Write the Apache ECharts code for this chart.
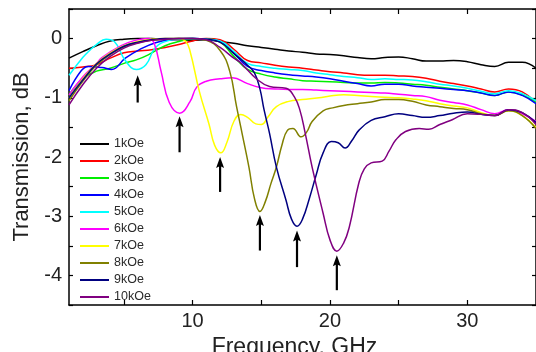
<!DOCTYPE html>
<html>
<head>
<meta charset="utf-8">
<script src="https://cdn.jsdelivr.net/npm/echarts@6/dist/echarts.min.js"></script>
<style>
  html, body { margin: 0; padding: 0; background: #fff; }
  #chart { width: 536px; height: 352px; }
</style>
</head>
<body>
<div id="chart"></div>
<script>
// transmission curves, [frequency GHz, dB]
var NAMES = ['1kOe', '2kOe', '3kOe', '4kOe', '5kOe', '6kOe', '7kOe', '8kOe', '9kOe', '10kOe'];
var COLORS = ['#000000', '#ff0000', '#00ee00', '#0000ff', '#00ffff', '#ff00ff', '#ffff00', '#808000', '#000080', '#800080'];

var k1 = [[1,-0.33],[2,-0.22],[3,-0.12],[4,-0.04],[5,-0.01],[6,0],[7,0],[8,-0.01],[9,-0.02],[10,-0.03],[11,-0.02],[12,-0.05],[13,-0.08],[14,-0.12],[15,-0.15],[16,-0.18],[17,-0.21],[18,-0.23],[19,-0.26],[20,-0.27],[21,-0.29],[22,-0.32],[23,-0.34],[24,-0.32],[25,-0.31],[26,-0.34],[27,-0.38],[28,-0.38],[29,-0.37],[30,-0.39],[31,-0.44],[32,-0.47],[33,-0.4],[34,-0.4],[35,-0.5]];
var k2 = [[1,-0.5],[2,-0.48],[3,-0.44],[4,-0.33],[5,-0.24],[6,-0.21],[7,-0.19],[8,-0.15],[9,-0.1],[10,-0.04],[11,0],[12,-0.02],[13,-0.18],[14,-0.37],[15,-0.41],[16,-0.45],[17,-0.48],[18,-0.5],[19,-0.53],[20,-0.56],[21,-0.58],[22,-0.61],[23,-0.62],[24,-0.62],[25,-0.63],[26,-0.64],[27,-0.67],[28,-0.72],[29,-0.76],[30,-0.8],[31,-0.85],[32,-0.9],[33,-0.85],[34,-0.9],[35,-1.08]];
var k3 = [[1,-0.95],[2,-0.68],[3,-0.55],[4,-0.5],[5.1,-0.41],[5.9,-0.36],[6.8,-0.27],[8,-0.12],[9,-0.05],[10,-0.01],[11,-0.01],[12,-0.06],[13,-0.3],[14,-0.52],[15,-0.6],[16,-0.65],[17,-0.68],[18,-0.71],[19,-0.72],[20,-0.73],[21,-0.74],[22,-0.75],[23,-0.75],[24,-0.74],[25,-0.75],[26,-0.77],[27,-0.79],[28,-0.82],[29,-0.85],[30,-0.88],[31,-0.92],[32,-0.96],[33,-0.9],[34,-0.95],[35,-1.08]];
var k4 = [[1,-0.88],[1.9,-0.54],[2.4,-0.47],[3.4,-0.49],[4.1,-0.52],[5.1,-0.33],[6.1,-0.19],[7.3,-0.07],[8.5,-0.02],[10,0],[11,-0.01],[12,-0.05],[13,-0.25],[14,-0.47],[15,-0.54],[16,-0.58],[17,-0.61],[18,-0.63],[19,-0.65],[20,-0.68],[21,-0.72],[22,-0.76],[23,-0.8],[24,-0.77],[25,-0.77],[26,-0.8],[27,-0.82],[28,-0.84],[29,-0.86],[30,-0.88],[31,-0.92],[32,-0.96],[33,-0.9],[34,-0.96],[35,-1.1]];
var k5 = [[1,-0.62],[2,-0.32],[2.5,-0.2],[3,-0.1],[3.7,-0.01],[4.3,-0.05],[5.1,-0.37],[5.9,-0.52],[6.6,-0.44],[7.3,-0.15],[8.3,-0.03],[9,-0.01],[10,0],[11,-0.01],[12,-0.04],[13,-0.22],[14,-0.42],[15,-0.47],[16,-0.5],[17,-0.52],[18,-0.54],[19,-0.58],[20,-0.61],[21,-0.64],[22,-0.66],[23,-0.69],[24,-0.68],[25,-0.69],[26,-0.7],[27,-0.73],[28,-0.77],[29,-0.8],[30,-0.84],[31,-0.89],[32,-0.93],[33,-0.88],[34,-0.93],[35,-1.05]];
var k6 = [[1,-0.95],[2,-0.65],[3,-0.42],[3.4,-0.32],[4.8,-0.12],[5.8,-0.03],[6.8,0],[7.2,-0.08],[7.7,-0.55],[8.3,-1.08],[9.05,-1.26],[9.8,-1.07],[10.3,-0.82],[11,-0.72],[12,-0.68],[12.9,-0.66],[14,-0.76],[15,-0.83],[16,-0.85],[17,-0.86],[18,-0.86],[19,-0.87],[20,-0.88],[21,-0.89],[22,-0.9],[23,-0.91],[24,-0.92],[25,-0.94],[26,-0.96],[27,-0.98],[28,-1.04],[29,-1.08],[30,-1.12],[31,-1.2],[32,-1.27],[33,-1.2],[34,-1.27],[35,-1.4]];
var k7 = [[1,-1.0],[2,-0.68],[3,-0.42],[4,-0.24],[5,-0.12],[6,-0.05],[7,-0.01],[8,0],[9,0],[9.5,-0.05],[9.8,-0.2],[10.5,-0.9],[11.2,-1.45],[11.6,-1.8],[12.05,-1.93],[12.5,-1.75],[13,-1.4],[13.5,-1.28],[14,-1.33],[14.6,-1.44],[15,-1.45],[15.5,-1.32],[16.1,-1.15],[17,-1.06],[18,-1.03],[19.2,-1.0],[20,-0.97],[21,-0.95],[22,-0.96],[23,-0.98],[24,-0.99],[25,-1.0],[26,-1.02],[27,-1.05],[28,-1.1],[29,-1.14],[30,-1.17],[31,-1.25],[32,-1.3],[33,-1.22],[34,-1.3],[35,-1.5]];
var k8 = [[1,-1.05],[2,-0.72],[3,-0.45],[4,-0.27],[5,-0.14],[6,-0.07],[7,-0.03],[8,-0.01],[9,0],[10,0],[11,-0.03],[12,-0.2],[12.7,-0.55],[13.2,-1.15],[13.6,-1.6],[14.1,-2.17],[14.5,-2.7],[14.9,-2.92],[15.3,-2.75],[15.7,-2.45],[16.1,-2.17],[16.5,-1.8],[16.9,-1.55],[17.3,-1.52],[17.9,-1.66],[18.3,-1.58],[18.7,-1.4],[19.5,-1.22],[20.2,-1.17],[21,-1.13],[22,-1.1],[23,-1.07],[24,-1.03],[25,-1.03],[26,-1.06],[27,-1.12],[28,-1.15],[29,-1.18],[30,-1.2],[31,-1.27],[32,-1.3],[33,-1.22],[34,-1.3],[35,-1.52]];
var k9 = [[1,-1.0],[2,-0.7],[3,-0.43],[4,-0.26],[5,-0.13],[6,-0.06],[7,-0.02],[8,0],[9,0],[10,0],[11,-0.01],[12,-0.06],[13,-0.25],[14,-0.45],[14.5,-0.58],[14.9,-0.85],[15.2,-1.2],[15.6,-1.6],[16.1,-2.17],[16.8,-2.73],[17.2,-3.05],[17.6,-3.17],[18,-3.05],[18.5,-2.7],[19,-2.3],[19.5,-1.93],[20.1,-1.74],[20.6,-1.76],[21.1,-1.85],[21.6,-1.72],[22.1,-1.55],[23,-1.38],[24,-1.32],[25,-1.27],[26,-1.3],[27,-1.33],[28,-1.3],[29,-1.26],[30,-1.24],[31,-1.28],[32,-1.3],[33,-1.2],[34,-1.25],[35,-1.42]];
var k10 = [[1,-1.12],[2,-0.78],[3,-0.5],[4,-0.3],[5,-0.16],[6,-0.08],[7,-0.03],[8,-0.01],[9,0],[10,0],[11,-0.02],[12,-0.15],[13,-0.33],[13.4,-0.39],[14,-0.53],[14.6,-0.67],[15.6,-0.81],[16.8,-0.84],[17.4,-0.98],[17.8,-1.2],[18.2,-1.6],[18.7,-2.17],[19.5,-2.95],[20,-3.4],[20.5,-3.59],[21,-3.45],[21.4,-3.19],[22.1,-2.44],[22.5,-2.2],[23,-2.1],[23.8,-2.07],[24.3,-1.9],[24.8,-1.71],[25.5,-1.57],[26.5,-1.52],[27.2,-1.53],[28,-1.45],[28.9,-1.37],[30,-1.27],[31,-1.28],[32,-1.3],[33,-1.2],[34,-1.25],[35,-1.45]];
var CURVES = [k1, k2, k3, k4, k5, k6, k7, k8, k9, k10];

// arrows under the resonance dips: frequency, tail (dB), tip (dB)
var ARROW_F = [6.0, 9.05, 12.0, 14.9, 17.6, 20.5];
var ARROW_TAIL = [-1.08, -1.92, -2.59, -3.58, -3.86, -4.25];
var ARROW_TIP = [-0.62, -1.31, -2.0, -2.98, -3.24, -3.66];

var X_TICKS = [5, 10, 15, 20, 25, 30];
var X_LABELS = [10, 20, 30];
var Y_LABELS = [0, -1, -2, -3, -4];

var FONT = 'Liberation Sans';

var chart = echarts.init(document.getElementById('chart'));

var series = [];
for (var i = 0; i < NAMES.length; i++) {
    series.push({
        name: NAMES[i],
        type: 'line',
        data: CURVES[i],
        smooth: 0.45,
        symbol: 'none',
        color: COLORS[i],
        lineStyle: {width: 1.5, color: COLORS[i]},
        z: 2 + i
    });
}

var arrowData = [];
for (var j = 0; j < ARROW_F.length; j++) {
    arrowData.push([ARROW_F[j], ARROW_TAIL[j], ARROW_TIP[j]]);
}
series.push({
    name: 'arrows',
    type: 'custom',
    data: arrowData,
    encode: {x: 0, y: [1, 2]},
    z: 20,
    renderItem: function (params, api) {
        var p0 = api.coord([api.value(0), api.value(1)]);
        var p1 = api.coord([api.value(0), api.value(2)]);
        return {
            type: 'group',
            children: [{
                type: 'line',
                shape: {x1: p0[0], y1: p0[1], x2: p1[0], y2: p1[1] + 8},
                style: {stroke: '#000', lineWidth: 2.2}
            }, {
                type: 'polygon',
                shape: {points: [[p1[0], p1[1]], [p1[0] - 4, p1[1] + 11], [p1[0], p1[1] + 9], [p1[0] + 4, p1[1] + 11]]},
                style: {fill: '#000'}
            }]
        };
    }
});

var option = {
    animation: false,
    backgroundColor: '#fff',
    grid: {left: 69, right: 0, top: 9, bottom: 47, outerBoundsMode: 'none'},
    legend: {
        data: NAMES,
        orient: 'vertical',
        left: 75,
        top: 132,
        icon: 'rect',
        itemWidth: 29,
        itemHeight: 2,
        itemGap: 3,
        textStyle: {fontFamily: FONT, fontSize: 12.5, color: '#2a2a2a', lineHeight: 14}
    },
    xAxis: [{
        type: 'value',
        min: 1,
        max: 35,
        name: 'Frequency, GHz',
        nameLocation: 'middle',
        nameGap: 27,
        nameTextStyle: {fontFamily: FONT, fontSize: 23, color: '#222', padding: [0, 16, 0, 0]},
        axisLine: {show: true, onZero: false, lineStyle: {color: '#000', width: 1.5}},
        axisTick: {show: true, inside: true, length: 5, customValues: X_TICKS, lineStyle: {color: '#000', width: 1.2}},
        axisLabel: {customValues: X_LABELS, fontFamily: FONT, fontSize: 20, color: '#222', margin: 6},
        splitLine: {show: false}
    }, {
        type: 'value',
        position: 'top',
        min: 1,
        max: 35,
        axisLine: {show: true, onZero: false, lineStyle: {color: '#000', width: 1.5}},
        axisTick: {show: true, inside: true, length: 5, customValues: X_TICKS, lineStyle: {color: '#000', width: 1.2}},
        axisLabel: {show: false},
        splitLine: {show: false}
    }],
    yAxis: [{
        type: 'value',
        min: -4.5,
        max: 0.5,
        interval: 0.5,
        name: 'Transmission, dB',
        nameLocation: 'middle',
        nameGap: 28,
        nameTextStyle: {fontFamily: FONT, fontSize: 22, color: '#222'},
        axisLine: {show: true, onZero: false, lineStyle: {color: '#000', width: 1.5}},
        axisTick: {show: true, inside: true, length: 4, lineStyle: {color: '#000', width: 1.2}},
        axisLabel: {customValues: Y_LABELS, fontFamily: FONT, fontSize: 20, color: '#222', margin: 7},
        splitLine: {show: false}
    }, {
        type: 'value',
        position: 'right',
        min: -4.5,
        max: 0.5,
        interval: 0.5,
        axisLine: {show: true, onZero: false, lineStyle: {color: '#000', width: 1.5}},
        axisTick: {show: true, inside: true, length: 4, lineStyle: {color: '#000', width: 1.2}},
        axisLabel: {show: false},
        splitLine: {show: false}
    }],
    series: series
};

chart.setOption(option);
</script>
</body>
</html>
